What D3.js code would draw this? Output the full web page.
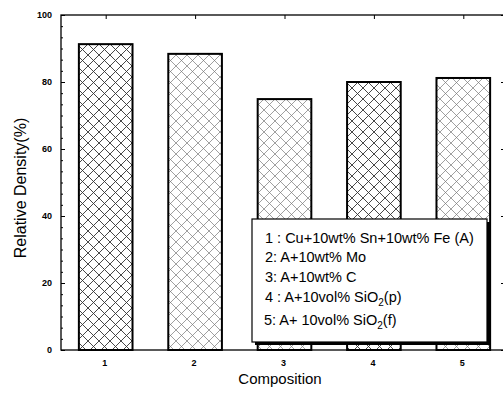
<!DOCTYPE html>
<html>
<head>
<meta charset="utf-8">
<script src="https://cdn.jsdelivr.net/npm/d3@7"></script>
<style>
  html, body { margin: 0; padding: 0; background: #fff; }
  svg { display: block; }
</style>
</head>
<body>
<script>
// Data
const compositions = [1, 2, 3, 4, 5];
const density = [91.3, 88.4, 74.9, 80.0, 81.2];
const yTicks = [0, 20, 40, 60, 80, 100];
const legendLabels = [
  ["1 : Cu+10wt% Sn+10wt% Fe (A)"],
  ["2:  A+10wt% Mo"],
  ["3:  A+10wt% C"],
  ["4 : A+10vol% SiO", "2", "(p)"],
  ["5: A+ 10vol% SiO", "2", "(f)"]
];

const width = 503, height = 400;
const margin = { top: 15, right: -5, bottom: 50, left: 61 };
const font = "Liberation Sans, Arial, sans-serif";

const svg = d3.select("body").append("svg")
  .attr("width", width)
  .attr("height", height)
  .attr("font-family", font);

svg.append("rect").attr("width", width).attr("height", height).attr("fill", "#fff");

const defs = svg.append("defs");
function hatch(id, color, sw) {
  const p = defs.append("pattern")
    .attr("id", id)
    .attr("patternUnits", "userSpaceOnUse")
    .attr("width", 11).attr("height", 11);
  p.append("path").attr("d", "M0,0 L11,11 M11,0 L0,11")
    .attr("stroke", color).attr("stroke-width", sw).attr("fill", "none");
}
hatch("hatchDark", "#333", 0.9);
hatch("hatchLight", "#777", 0.7);

const x = d3.scaleLinear().domain([0.5, 5.5]).range([margin.left, width - margin.right]);
const y = d3.scaleLinear().domain([0, 100]).range([height - margin.bottom, margin.top]);
const barW = x(1.3) - x(0.7);

// Bars
const hatchFor = ["hatchDark", "hatchLight", "hatchLight", "hatchDark", "hatchLight"];
svg.append("g").selectAll("rect")
  .data(compositions)
  .join("rect")
  .attr("x", (d) => x(d) - barW / 2)
  .attr("y", (d, i) => y(density[i]))
  .attr("width", barW)
  .attr("height", (d, i) => y(0) - y(density[i]))
  .attr("fill", (d, i) => `url(#${hatchFor[i]})`)
  .attr("stroke", "#000")
  .attr("stroke-width", 2);

// Frame
svg.append("rect")
  .attr("x", x.range()[0]).attr("y", y.range()[1])
  .attr("width", x.range()[1] - x.range()[0])
  .attr("height", y.range()[0] - y.range()[1])
  .attr("fill", "none").attr("stroke", "#000").attr("stroke-width", 1.3);

// Left axis (inward ticks)
const leftAxis = svg.append("g").attr("transform", `translate(${x.range()[0]},0)`);
leftAxis.call(d3.axisRight(y).tickValues(yTicks).tickSize(4).tickFormat(""));
leftAxis.select(".domain").remove();
leftAxis.append("g").call(d3.axisRight(y).tickValues(d3.range(0, 100, 20 / 6)).tickSize(2).tickFormat(""))
  .select(".domain").remove();
svg.append("g").selectAll("text")
  .data(yTicks)
  .join("text")
  .attr("x", x.range()[0] - 9)
  .attr("y", (d) => y(d) + 3)
  .attr("text-anchor", "end")
  .attr("font-size", 9)
  .attr("font-weight", "bold")
  .text((d) => d);

// Right axis (inward ticks)
const rightAxis = svg.append("g").attr("transform", `translate(${x.range()[1]},0)`);
rightAxis.call(d3.axisLeft(y).tickValues(yTicks).tickSize(7).tickFormat(""));
rightAxis.select(".domain").remove();
rightAxis.append("g").call(d3.axisLeft(y).tickValues(d3.range(0, 100, 20 / 6)).tickSize(5).tickFormat(""))
  .select(".domain").remove();

// Top axis (inward ticks)
const topAxis = svg.append("g").attr("transform", `translate(0,${y.range()[1]})`);
topAxis.call(d3.axisBottom(x).tickValues(compositions).tickSize(4).tickFormat(""));
topAxis.select(".domain").remove();

// Bottom tick labels
svg.append("g").selectAll("text")
  .data(compositions)
  .join("text")
  .attr("x", (d) => x(d) - 1)
  .attr("y", y(0) + 16)
  .attr("text-anchor", "middle")
  .attr("font-size", 9)
  .attr("font-weight", "bold")
  .text((d) => d);

// Axis titles
svg.append("text")
  .attr("x", 280).attr("y", 384)
  .attr("text-anchor", "middle")
  .attr("font-size", 15)
  .text("Composition");

svg.append("text")
  .attr("transform", "translate(26,188) rotate(-90)")
  .attr("text-anchor", "middle")
  .attr("font-size", 16)
  .text("Relative Density(%)");

// Legend box with shadow
const lg = { x: 252, y: 219, w: 235, h: 123 };
svg.append("rect")
  .attr("x", lg.x + 3).attr("y", lg.y + 3).attr("width", lg.w).attr("height", lg.h)
  .attr("fill", "#000");
svg.append("rect")
  .attr("x", lg.x).attr("y", lg.y).attr("width", lg.w).attr("height", lg.h)
  .attr("fill", "#fff").attr("stroke", "#000").attr("stroke-width", 1.2);

const lineY = [243, 262, 282, 302, 325];
const lineX = [265, 265, 265, 265, 264];
legendLabels.forEach((parts, i) => {
  const t = svg.append("text")
    .attr("x", lineX[i]).attr("y", lineY[i])
    .attr("font-size", 14.5);
  t.append("tspan").text(parts[0]);
  if (parts.length > 1) {
    t.append("tspan").attr("dy", 4).attr("font-size", 10).text(parts[1]);
    t.append("tspan").attr("dy", -4).text(parts[2]);
  }
});
</script>
</body>
</html>
